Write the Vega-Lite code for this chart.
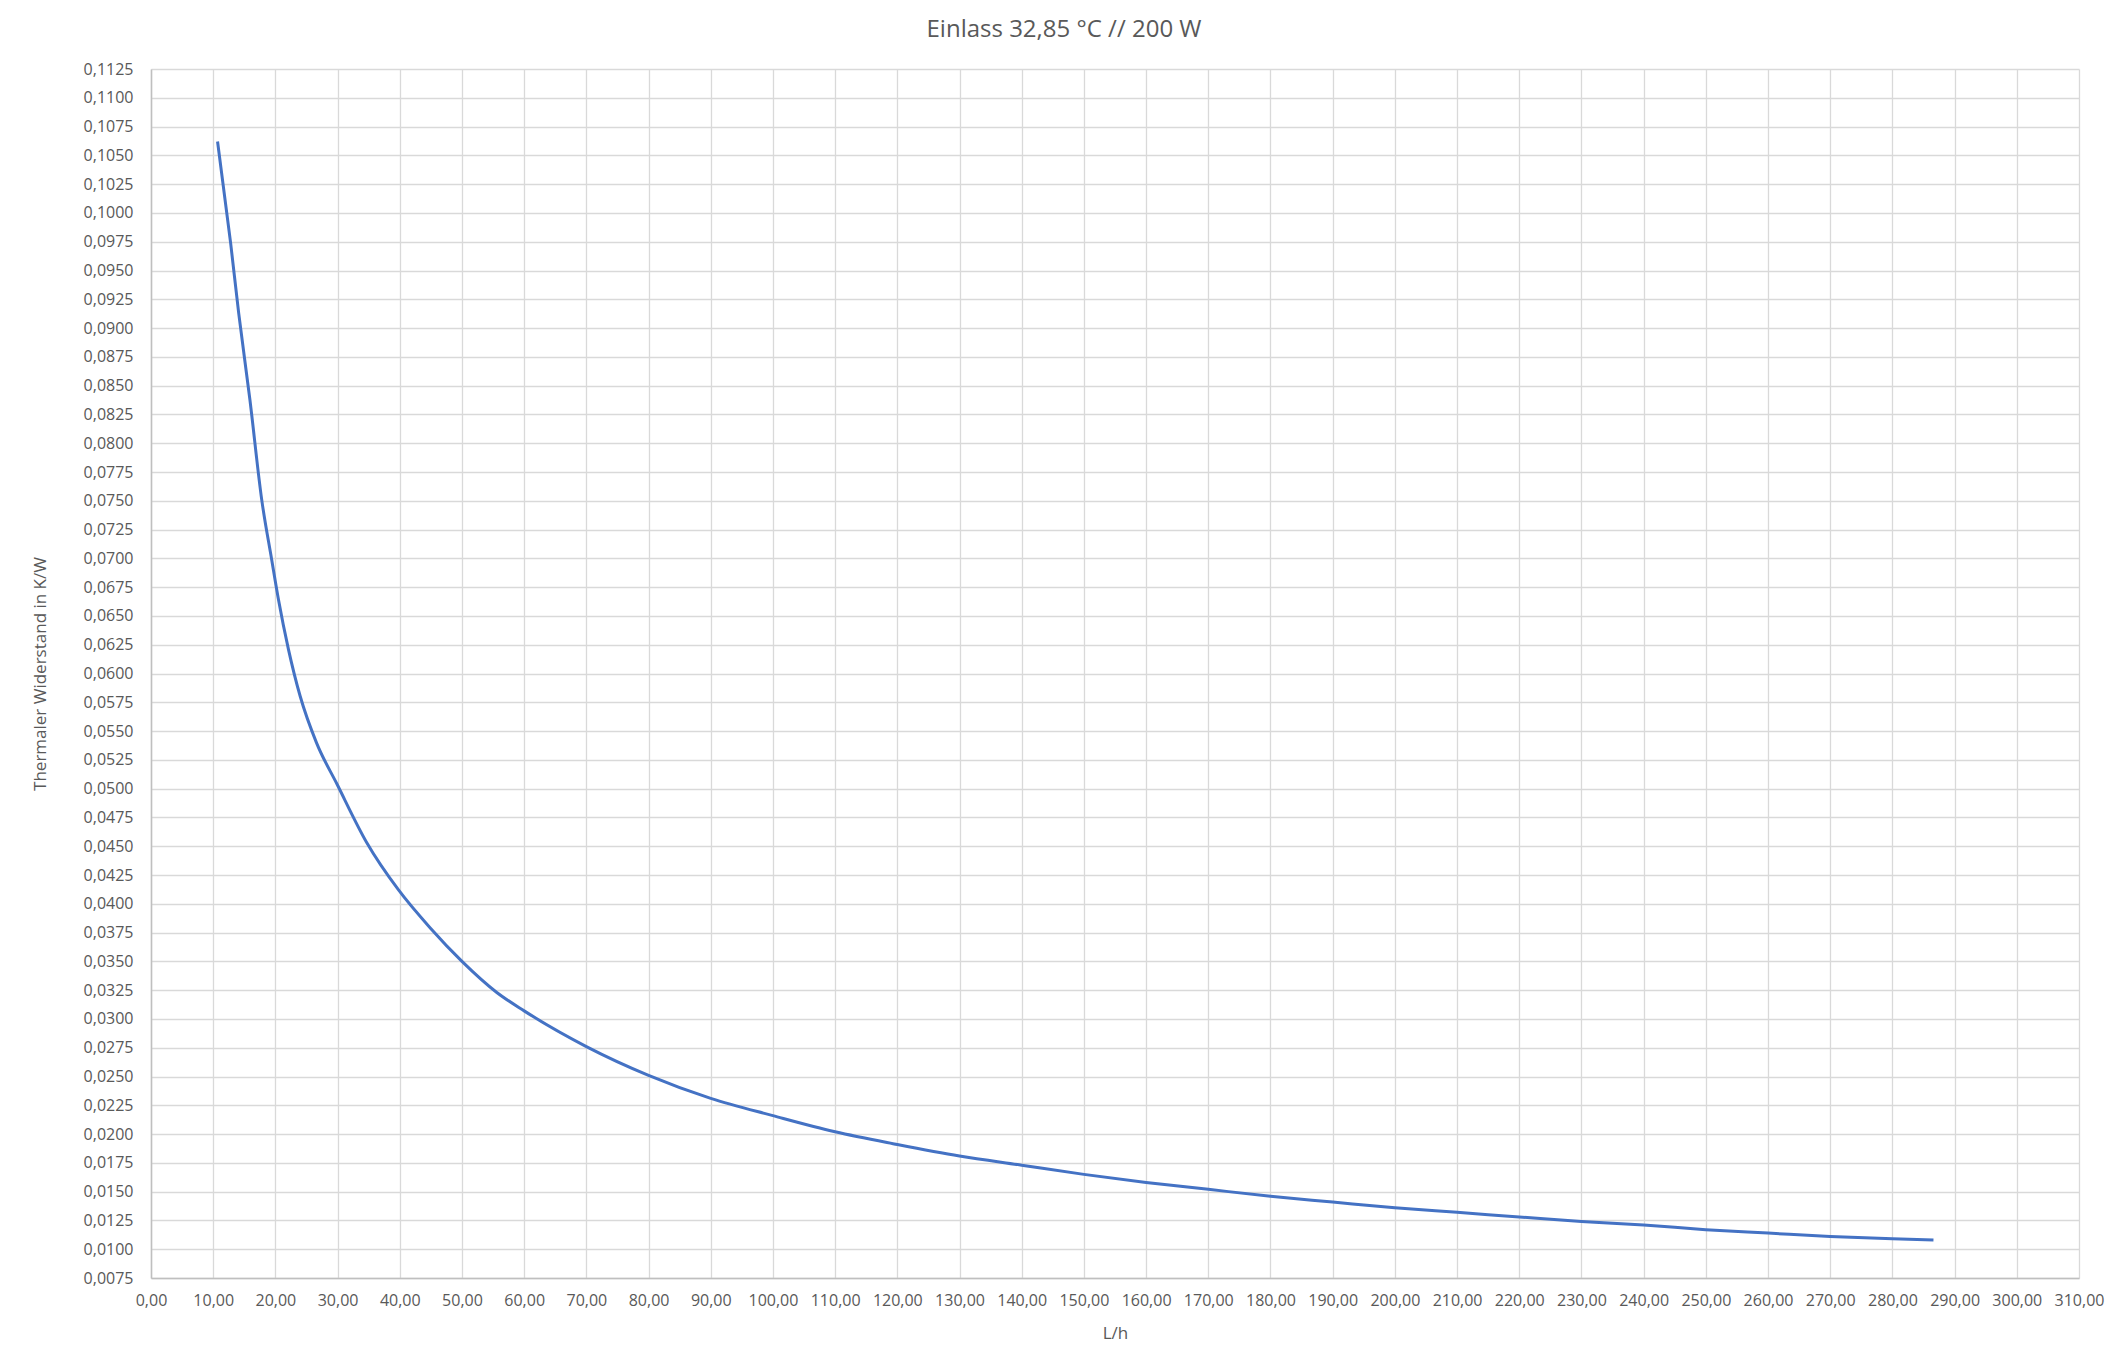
{
  "$schema": "https://vega.github.io/schema/vega-lite/v6.json",
  "autosize": "none",
  "width": 1928,
  "height": 1209,
  "padding": {"left": 151, "top": 69, "right": 36, "bottom": 77},
  "background": "white",
  "title": {
    "text": "Einlass 32,85 °C // 200 W",
    "font": "Open Sans",
    "fontSize": 24,
    "fontWeight": "normal",
    "color": "#595959",
    "anchor": "middle",
    "dx": -51,
    "dy": 23,
    "offset": 23,
    "baseline": "alphabetic"
  },
  "config": {
    "view": {"stroke": null},
    "axis": {
      "labelFont": "Open Sans",
      "titleFont": "Open Sans",
      "labelColor": "#595959",
      "titleColor": "#595959",
      "labelFontSize": 16,
      "titleFontSize": 16,
      "titleFontWeight": "normal",
      "ticks": false,
      "gridColor": "#d9d9d9",
      "gridWidth": 1.3,
      "domainColor": "#bfbfbf",
      "domainWidth": 1.5
    }
  },
  "data": {
    "values": [
      {"flow": 10.7, "rth": 0.1062},
      {"flow": 12.8, "rth": 0.0974},
      {"flow": 14.1, "rth": 0.0913},
      {"flow": 15.9, "rth": 0.0838},
      {"flow": 17.8, "rth": 0.0751},
      {"flow": 19.4, "rth": 0.0699},
      {"flow": 20.5, "rth": 0.0664},
      {"flow": 22.1, "rth": 0.0621},
      {"flow": 24.0, "rth": 0.0580},
      {"flow": 26.6, "rth": 0.0540},
      {"flow": 29.9, "rth": 0.0504},
      {"flow": 34.7, "rth": 0.0453},
      {"flow": 39.8, "rth": 0.0412},
      {"flow": 44.9, "rth": 0.0379},
      {"flow": 50.0, "rth": 0.0350},
      {"flow": 55.6, "rth": 0.0323},
      {"flow": 60.0, "rth": 0.0307},
      {"flow": 70.0, "rth": 0.0276},
      {"flow": 80.0, "rth": 0.0251},
      {"flow": 90.0, "rth": 0.0231},
      {"flow": 100.0, "rth": 0.0216},
      {"flow": 110.0, "rth": 0.0202},
      {"flow": 120.0, "rth": 0.0191},
      {"flow": 130.0, "rth": 0.0181},
      {"flow": 140.0, "rth": 0.0173},
      {"flow": 150.0, "rth": 0.0165},
      {"flow": 160.0, "rth": 0.0158},
      {"flow": 170.0, "rth": 0.0152},
      {"flow": 180.0, "rth": 0.0146},
      {"flow": 190.0, "rth": 0.0141},
      {"flow": 200.0, "rth": 0.0136},
      {"flow": 210.0, "rth": 0.0132},
      {"flow": 220.0, "rth": 0.0128},
      {"flow": 230.0, "rth": 0.0124},
      {"flow": 240.0, "rth": 0.0121},
      {"flow": 250.0, "rth": 0.0117},
      {"flow": 260.0, "rth": 0.0114},
      {"flow": 270.0, "rth": 0.0111},
      {"flow": 280.0, "rth": 0.0109},
      {"flow": 286.6, "rth": 0.0108}
    ]
  },
  "mark": {"type": "line", "color": "#4472C4", "strokeWidth": 3, "interpolate": "monotone"},
  "encoding": {
    "x": {
      "field": "flow",
      "type": "quantitative",
      "scale": {"domain": [0, 310], "nice": false, "zero": false},
      "axis": {
        "values": [0,10,20,30,40,50,60,70,80,90,100,110,120,130,140,150,160,170,180,190,200,210,220,230,240,250,260,270,280,290,300,310],
        "labelExpr": "replace(format(datum.value, '.2f'), '.', ',')",
        "labelPadding": 14,
        "labelOverlap": false,
        "labelFlush": false,
        "title": "L/h",
        "titleFontSize": 17,
        "titleX": 964,
        "titleY": 60,
        "titleBaseline": "alphabetic",
        "titleAlign": "center"
      }
    },
    "y": {
      "field": "rth",
      "type": "quantitative",
      "scale": {"domain": [0.0075, 0.1125], "nice": false, "zero": false},
      "axis": {
        "values": [0.0075,0.01,0.0125,0.015,0.0175,0.02,0.0225,0.025,0.0275,0.03,0.0325,0.035,0.0375,0.04,0.0425,0.045,0.0475,0.05,0.0525,0.055,0.0575,0.06,0.0625,0.065,0.0675,0.07,0.0725,0.075,0.0775,0.08,0.0825,0.085,0.0875,0.09,0.0925,0.095,0.0975,0.1,0.1025,0.105,0.1075,0.11,0.1125],
        "labelExpr": "replace(format(datum.value, '.4f'), '.', ',')",
        "labelPadding": 18,
        "labelOverlap": false,
        "labelFlush": false,
        "title": "Thermaler Widerstand in K/W",
        "titleFontSize": 17,
        "titleX": -106,
        "titleY": 604.5,
        "titleAngle": -90,
        "titleBaseline": "alphabetic",
        "titleAlign": "center"
      }
    }
  }
}
